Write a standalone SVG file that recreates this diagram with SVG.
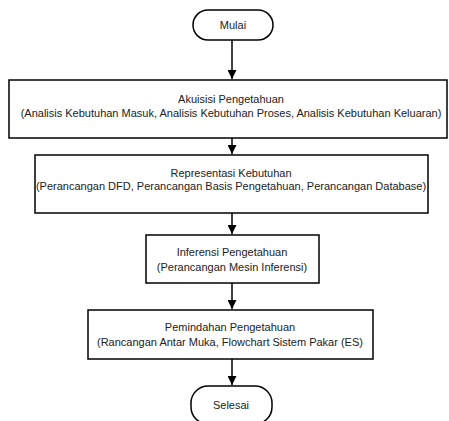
<svg xmlns="http://www.w3.org/2000/svg" width="449" height="421" viewBox="0 0 449 421">
<style>
.b{fill:#fff;stroke:#000;stroke-width:1.5}
.t{font-family:"Liberation Sans",Arial,sans-serif;font-size:11px;fill:#222;text-anchor:middle}
.c{stroke:#000;stroke-width:1.5;fill:none}
</style>
<defs>
<marker id="ah" viewBox="0 0 10 10" refX="10" refY="5" markerWidth="10" markerHeight="9" markerUnits="userSpaceOnUse" orient="auto">
<path d="M0,0 L10,5 L0,10 Z" fill="#000"/>
</marker>
</defs>
<rect width="449" height="421" fill="#fff"/>
<g id="connectors">
<line class="c" x1="232" y1="40" x2="232" y2="79" marker-end="url(#ah)"/>
<line class="c" x1="232" y1="138" x2="232" y2="154" marker-end="url(#ah)"/>
<line class="c" x1="232" y1="213" x2="232" y2="234" marker-end="url(#ah)"/>
<line class="c" x1="232" y1="283" x2="232" y2="309" marker-end="url(#ah)"/>
<line class="c" x1="232" y1="359" x2="232" y2="385" marker-end="url(#ah)"/>
</g>
<g id="mulai">
<rect class="b" x="193" y="10" width="80" height="30" rx="15" ry="15"/>
<text class="t" x="233" y="29">Mulai</text>
</g>
<g id="akuisisi">
<rect class="b" x="9" y="80" width="438" height="58"/>
<text class="t" x="231" y="103">Akuisisi Pengetahuan</text>
<text class="t" x="231" y="117">(Analisis Kebutuhan Masuk, Analisis Kebutuhan Proses, Analisis Kebutuhan Keluaran)</text>
</g>
<g id="representasi">
<rect class="b" x="35" y="155" width="393" height="58"/>
<text class="t" x="231" y="177">Representasi Kebutuhan</text>
<text class="t" x="231" y="190">(Perancangan DFD, Perancangan Basis Pengetahuan, Perancangan Database)</text>
</g>
<g id="inferensi">
<rect class="b" x="146" y="235" width="173" height="48"/>
<text class="t" x="232" y="256">Inferensi Pengetahuan</text>
<text class="t" x="232" y="271">(Perancangan Mesin Inferensi)</text>
</g>
<g id="pemindahan">
<rect class="b" x="88" y="310" width="285" height="49"/>
<text class="t" x="230" y="331">Pemindahan Pengetahuan</text>
<text class="t" x="230" y="346">(Rancangan Antar Muka, Flowchart Sistem Pakar (ES)</text>
</g>
<g id="selesai">
<rect class="b" x="191" y="386" width="81" height="38" rx="17" ry="17"/>
<text class="t" x="231" y="409">Selesai</text>
</g>
</svg>
